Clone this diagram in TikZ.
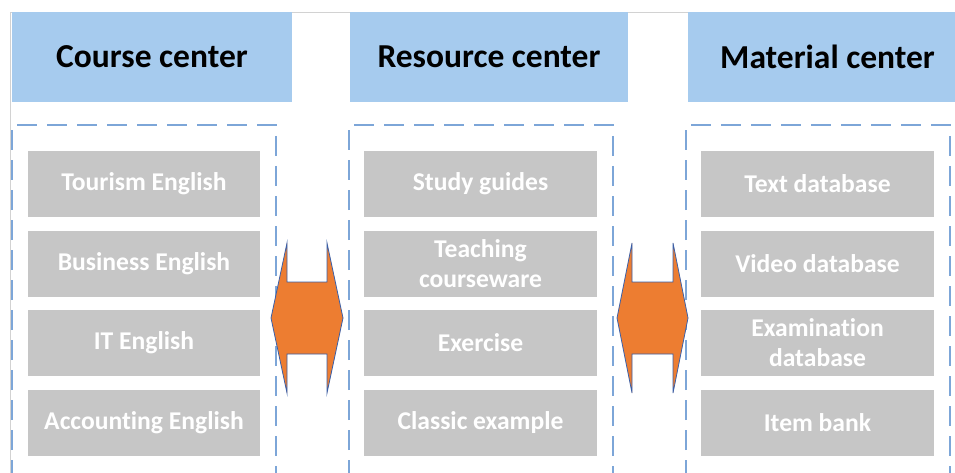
\documentclass[tikz,border=0pt]{standalone}
\usepackage{fontspec}
\setmainfont[Ligatures=NoCommon]{Carlito}
\definecolor{headblue}{HTML}{A6CBEE}
\definecolor{itemgray}{HTML}{C6C6C6}
\definecolor{dashblue}{HTML}{7DA6D8}
\definecolor{arroworange}{HTML}{ED7D31}
\definecolor{arrowedge}{HTML}{3A5FA8}
\tikzset{
	headbox/.style={fill=headblue,minimum width=279pt,minimum height=90pt,inner sep=0pt,
		font=\fontsize{33.5}{38}\selectfont\bfseries},
	itembox/.style={fill=itemgray,text=white,minimum width=233pt,minimum height=66pt,inner sep=0pt,
		align=center,font=\fontsize{25.6}{30}\selectfont\bfseries},
	groupbox/.style={draw=dashblue,line width=1.5pt,dash pattern=on 20pt off 10pt},
	hexarrow/.style={fill=arroworange,draw=arrowedge,line width=0.8pt,line join=miter}
}
\begin{document}
\begin{tikzpicture}[x=1pt,y=-1pt]
	\useasboundingbox (0,0) rectangle (955,473);
	% page edge
	\draw[gray!35,line width=0.8pt] (10,473) -- (10,12) -- (955,12);
	% headers
	\node[headbox,minimum width=280pt] (course) at (152,57) {Course center};
	\node[headbox,minimum width=278pt] (resource) at (489,57) {Resource center};
	\node[headbox] (material) at (827.5,57) {Material center};
	% dashed groups
	\draw[groupbox] (12,480) -- (12,125) -- (276,125) -- (276,480);
	\draw[groupbox] (349,480) -- (349,125) -- (613,125) -- (613,480);
	\draw[groupbox] (686,480) -- (686,125) -- (950,125) -- (950,480);
	% course items
	\node[itembox,minimum width=232pt] (tourism) at (144,184) {Tourism English};
	\node[itembox,minimum width=232pt] (business) at (144,264) {Business English};
	\node[itembox,minimum width=232pt] (it) at (144,343) {IT English};
	\node[itembox,minimum width=232pt] (accounting) at (144,423) {Accounting English};
	% resource items
	\node[itembox] (guides) at (480.5,184) {Study guides};
	\node[itembox] (courseware) at (480.5,264) {Teaching\\courseware};
	\node[itembox] (exercise) at (480.5,343) {Exercise};
	\node[itembox] (classic) at (480.5,423) {Classic example};
	% material items
	\node[itembox] (text) at (817.5,184) {Text database};
	\node[itembox] (video) at (817.5,264) {Video database};
	\node[itembox] (exam) at (817.5,343) {Examination\\database};
	\node[itembox] (bank) at (817.5,423) {Item bank};
	% double arrows between the groups
	\draw[hexarrow] (287,243) -- (287,282) -- (327,282) -- (327,243) -- (343,318)
		-- (327,393) -- (327,354) -- (287,354) -- (287,393) -- (271,318) -- cycle;
	\draw[hexarrow] (632,243) -- (632,282) -- (673,282) -- (673,243) -- (688,318)
		-- (673,393) -- (673,354) -- (632,354) -- (632,393) -- (617,318) -- cycle;
\end{tikzpicture}
\end{document}
